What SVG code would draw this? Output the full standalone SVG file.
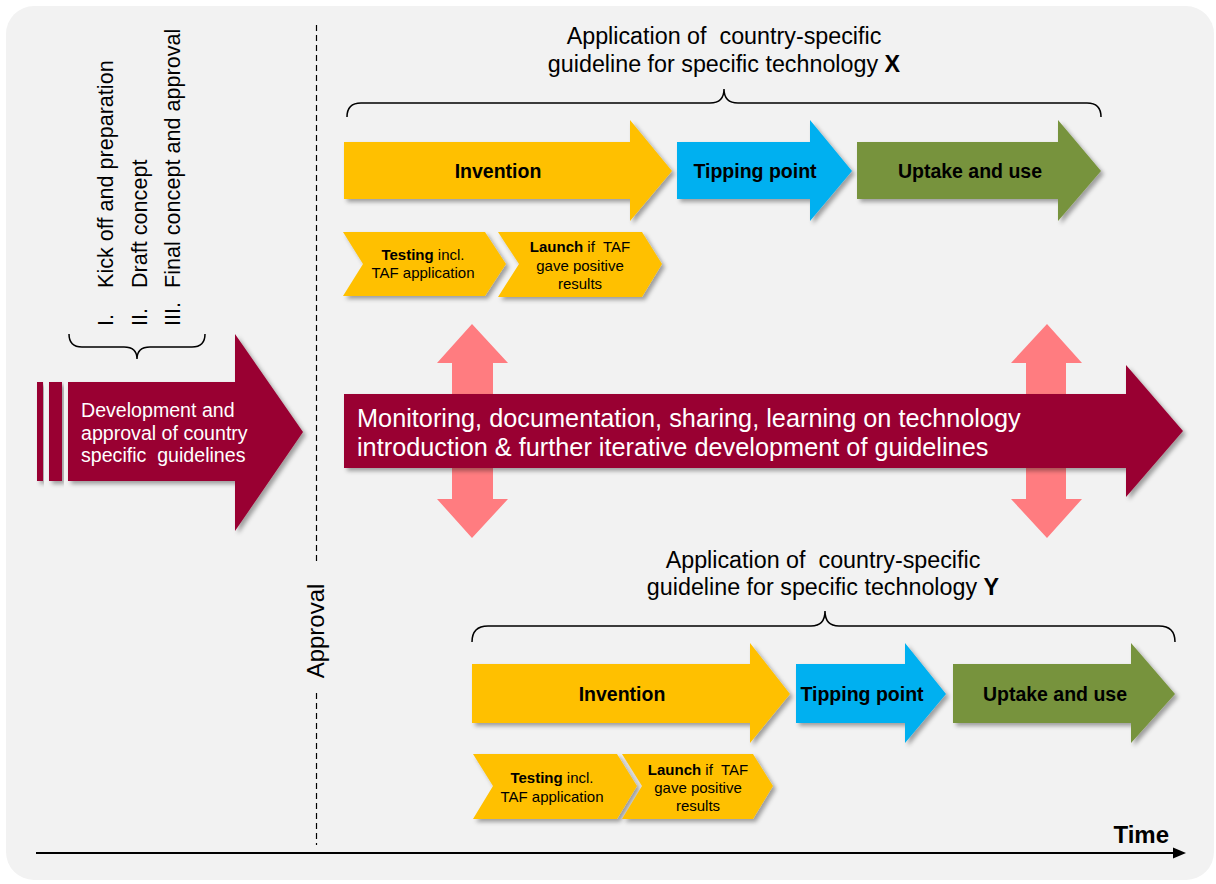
<svg xmlns="http://www.w3.org/2000/svg" width="1216" height="884" viewBox="0 0 1216 884">
<defs>
<filter id="sh" x="-10%" y="-20%" width="125%" height="150%">
<feDropShadow dx="3" dy="3" stdDeviation="2" flood-color="#000" flood-opacity="0.35"/>
</filter>
<style>
text{font-family:"Liberation Sans",Arial,sans-serif;white-space:pre;fill:#000}
.yel{fill:#FFC000;filter:url(#sh)}
.blu{fill:#00B0F0;filter:url(#sh)}
.grn{fill:#77933C;filter:url(#sh)}
.mar{fill:#990033;filter:url(#sh)}
.pink{fill:#FF7C80}
.brace{fill:none;stroke:#000;stroke-width:1.5}
.lbl{font-size:19.5px;font-weight:bold;text-anchor:middle}
.chev{font-size:15px;text-anchor:middle}
.title{font-size:23.3px;text-anchor:middle}
.vt{font-size:21.6px}
.wt{fill:#fff}
.dash{stroke:#000;stroke-width:1.2;stroke-dasharray:6 4}
</style>
</defs>
<rect x="0" y="0" width="1216" height="884" fill="#fff"/>
<rect x="6" y="6" width="1208" height="874" rx="28" fill="#f2f2f2"/>

<g id="connectors">
<polygon class="pink" points="472,324 508,363 493,363 493,499 508,499 472,538 437,499 452,499 452,363 437,363"/>
<polygon class="pink" points="1047,324 1082,363 1066,363 1066,499 1082,499 1047,538 1011,499 1026,499 1026,363 1011,363"/>
<line x1="36" y1="853" x2="1176" y2="853" stroke="#000" stroke-width="2"/>
<polygon points="1186,853 1173,847.5 1173,858.5" fill="#000"/>
</g>

<g id="approval-separator">
<line class="dash" x1="316.5" y1="25" x2="316.5" y2="565"/>
<line class="dash" x1="316.5" y1="693" x2="316.5" y2="845"/>
<text transform="translate(324,631) rotate(-90)" font-size="24" text-anchor="middle">Approval</text>
</g>

<g id="phase-list">
<text class="vt" transform="translate(113,326) rotate(-90)">I.</text>
<text class="vt" transform="translate(113,288) rotate(-90)">Kick off and preparation</text>
<text class="vt" transform="translate(146.5,326) rotate(-90)">II.</text>
<text class="vt" transform="translate(146.5,288) rotate(-90)">Draft concept</text>
<text class="vt" transform="translate(180,326) rotate(-90)">III.</text>
<text class="vt" transform="translate(180,288) rotate(-90)">Final concept and approval</text>
<path class="brace" d="M69,334 Q69,347 82,347 L124,347 Q137,347 137,359 Q137,347 150,347 L192,347 Q205,347 205,334"/>
</g>

<g id="development-arrow">
<rect class="mar" x="37" y="382" width="6" height="99"/>
<rect class="mar" x="49" y="382" width="13" height="99"/>
<polygon class="mar" points="68,382 235,382 235,334 303,432 235,531 235,481 68,481"/>
<text class="wt" x="81" y="417" font-size="19.6">Development and</text>
<text class="wt" x="81" y="440" font-size="19.6">approval of country</text>
<text class="wt" x="81" y="462" font-size="19.6">specific  guidelines</text>
</g>

<g id="technology-x">
<text class="title" x="724" y="44">Application of  country-specific</text>
<text class="title" x="724" y="72">guideline for specific technology <tspan font-weight="bold">X</tspan></text>
<path class="brace" d="M347,117 Q347,103 361,103 L710,103 Q724,103 724,89 Q724,103 738,103 L1087,103 Q1101,103 1101,117"/>
</g>

<g id="invention-x">
<polygon class="yel" points="344,142 630,142 630,120 672,171 630,221 630,199 344,199"/>
<text class="lbl" x="498" y="178">Invention</text>
</g>
<g id="tipping-x">
<polygon class="blu" points="677,142 810,142 810,120 852,171 810,221 810,199 677,199"/>
<text class="lbl" x="755" y="178">Tipping point</text>
</g>
<g id="uptake-x">
<polygon class="grn" points="857,142 1058,142 1058,120 1101,171 1058,221 1058,199 857,199"/>
<text class="lbl" x="970" y="178">Uptake and use</text>
</g>
<g id="testing-x">
<polygon class="yel" points="343,232 485,232 506,264 485,296 343,296 363,264"/>
<text class="chev" x="423" y="260"><tspan font-weight="bold">Testing</tspan> incl.</text>
<text class="chev" x="423" y="278">TAF application</text>
</g>
<g id="launch-x">
<polygon class="yel" points="498,232 642,232 662,264 642,297 498,297 519,264"/>
<text class="chev" x="580" y="252"><tspan font-weight="bold">Launch</tspan> if  TAF</text>
<text class="chev" x="580" y="271">gave positive</text>
<text class="chev" x="580" y="289">results</text>
</g>

<g id="monitoring-arrow">
<polygon class="mar" points="344,394 1126,394 1126,365 1183,431 1126,497 1126,468 344,468"/>
<text class="wt" x="357" y="427" font-size="25.3">Monitoring, documentation, sharing, learning on technology</text>
<text class="wt" x="357" y="456" font-size="25.3">introduction &amp; further iterative development of guidelines</text>
</g>

<g id="technology-y">
<text class="title" x="823" y="568">Application of  country-specific</text>
<text class="title" x="823" y="595">guideline for specific technology <tspan font-weight="bold">Y</tspan></text>
<path class="brace" d="M472,642 Q472,626 488,626 L811,626 Q825,626 825,611 Q825,626 839,626 L1159,626 Q1175,626 1175,642"/>
</g>

<g id="invention-y">
<polygon class="yel" points="472,664 750,664 750,643 790,694 750,743 750,723 472,723"/>
<text class="lbl" x="622" y="701">Invention</text>
</g>
<g id="tipping-y">
<polygon class="blu" points="796,664 905,664 905,643 946,694 905,743 905,723 796,723"/>
<text class="lbl" x="862" y="701">Tipping point</text>
</g>
<g id="uptake-y">
<polygon class="grn" points="953,664 1131,664 1131,643 1175,694 1131,743 1131,723 953,723"/>
<text class="lbl" x="1055" y="701">Uptake and use</text>
</g>
<g id="testing-y">
<polygon class="yel" points="473,754 617,754 637,786 617,819 473,819 493,786"/>
<text class="chev" x="552" y="783"><tspan font-weight="bold">Testing</tspan> incl.</text>
<text class="chev" x="552" y="802">TAF application</text>
</g>
<g id="launch-y">
<polygon class="yel" points="622,754 753,754 773,786 753,819 622,819 642,786"/>
<text class="chev" x="698" y="775"><tspan font-weight="bold">Launch</tspan> if  TAF</text>
<text class="chev" x="698" y="793">gave positive</text>
<text class="chev" x="698" y="811">results</text>
</g>

<g id="time-label">
<text x="1169" y="843" font-size="24" font-weight="bold" text-anchor="end">Time</text>
</g>
</svg>
